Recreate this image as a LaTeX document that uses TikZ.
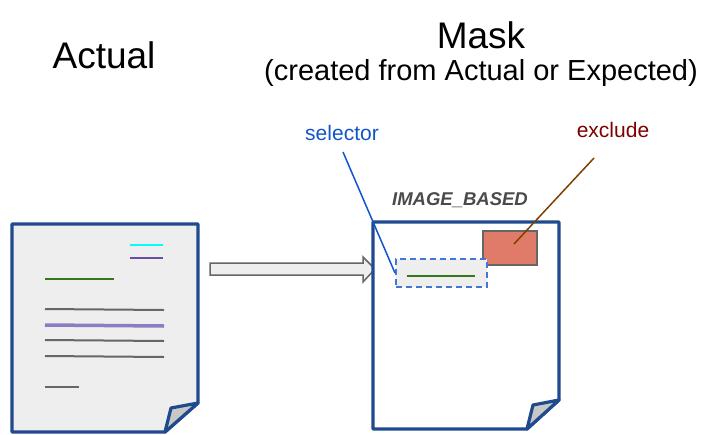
\documentclass[tikz,border=0pt]{standalone}
\usepackage{fontspec}
\setmainfont{Liberation Sans}
\definecolor{docblue}{HTML}{1F4A8E}
\definecolor{docfill}{HTML}{EEEEEE}
\definecolor{foldgray}{HTML}{C8C8C8}
\definecolor{linegray}{HTML}{666666}
\definecolor{lpurple}{HTML}{8E7CC3}
\definecolor{dpurple}{HTML}{674EA7}
\definecolor{lgreen}{HTML}{38761D}
\definecolor{lcyan}{HTML}{00FFFF}
\definecolor{selblue}{HTML}{1155CC}
\definecolor{exred}{HTML}{7F0000}
\definecolor{exbrown}{HTML}{7F3F00}
\definecolor{salmon}{HTML}{E07B6A}
\definecolor{imgtxt}{HTML}{4A4A4A}
\begin{document}
\begin{tikzpicture}[x=1pt,y=-1pt,
  doc/.style={draw=docblue, line width=3.2pt, line join=round},
  txtline/.style={line width=2pt},
  title/.style={font=\fontsize{37}{40}\selectfont, inner sep=0pt},
  subtitle/.style={font=\fontsize{29}{32}\selectfont, inner sep=0pt},
  lab/.style={font=\fontsize{21}{24}\selectfont, inner sep=0pt}]
\useasboundingbox (0,0) rectangle (706,434);
% titles
\node[title] (tact) at (104,55) {Actual};
\node[title] (tmask) at (481,35) {Mask};
\node[subtitle] (tsub) at (481,73) {(created from Actual or Expected)};
\node[lab, text=selblue] (lsel) at (342,133) {selector};
\node[lab, text=exred] (lexc) at (613,130) {exclude};
\node[font=\fontsize{18.5}{20}\selectfont\bfseries\itshape, text=imgtxt, inner sep=0pt] (limg) at (460,200) {IMAGE\_BASED};
% left document
\path[doc, fill=docfill] (12,224) -- (198,224) -- (198,403) -- (165,432) -- (12,432) -- cycle;
\path[doc, fill=foldgray] (171,408) -- (198,403) -- (165,432) -- cycle;
\draw[txtline, lcyan] (130,245) -- (163,245);
\draw[txtline, dpurple] (130,258) -- (163,258);
\draw[txtline, lgreen] (45,279) -- (114,279);
\draw[txtline, linegray] (45,309) -- (164,310);
\draw[line width=3.5pt, lpurple] (45,325) -- (164,326);
\draw[txtline, linegray] (45,340) -- (164,341);
\draw[txtline, linegray] (45,356) -- (164,357);
\draw[txtline, linegray] (45,387) -- (79,387);
% arrow
\path[draw=linegray, line width=1.5pt, fill=docfill, line join=miter]
  (210,263) -- (363,263) -- (363,257) -- (375,269) -- (363,282) -- (363,275) -- (210,275) -- cycle;
% right document
\path[doc, fill=white] (373,222) -- (559,222) -- (559,400) -- (527,429) -- (373,429) -- cycle;
\path[doc, fill=foldgray] (533,405) -- (559,400) -- (527,429) -- cycle;
% exclude box
\node[draw=linegray, line width=2pt, fill=salmon, minimum width=54pt, minimum height=34pt, inner sep=0pt] (excl) at (510,248) {};
% selector box
\node[draw=selblue!80!white, dashed, dash pattern=on 6pt off 4pt, line width=2pt, fill=docfill, minimum width=91pt, minimum height=28pt, inner sep=0pt] (sel) at (441.5,273) {};
\draw[txtline, lgreen] (407,276) -- (475,276);
% connectors
\coordinate (selstart) at (343,152);
\coordinate (excstart) at (594,158);
\coordinate (excend) at (514,244);
\draw[selblue, line width=1.5pt] (selstart) -- (sel.west);
\draw[exbrown, line width=1.5pt] (excstart) -- (excend);
\end{tikzpicture}
\end{document}
